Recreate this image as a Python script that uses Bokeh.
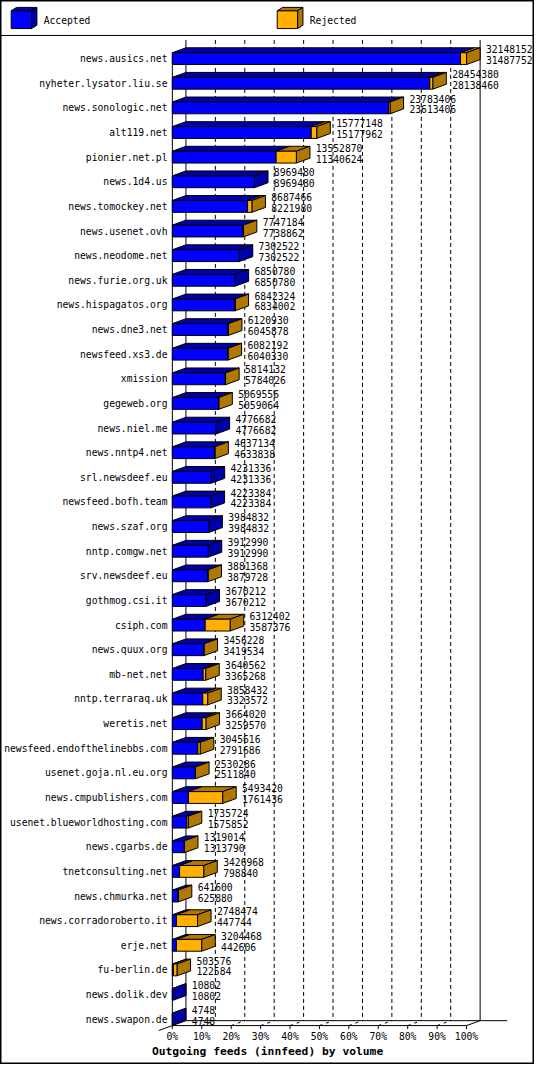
from bokeh.plotting import figure
from bokeh.models import Range1d
from bokeh.embed import file_html
from bokeh.resources import INLINE
from bokeh.core.properties import value

# ---------------- data ----------------
hosts = [
    "news.ausics.net", "nyheter.lysator.liu.se", "news.sonologic.net", "alt119.net",
    "pionier.net.pl", "news.1d4.us", "news.tomockey.net", "news.usenet.ovh",
    "news.neodome.net", "news.furie.org.uk", "news.hispagatos.org", "news.dne3.net",
    "newsfeed.xs3.de", "xmission", "gegeweb.org", "news.niel.me",
    "news.nntp4.net", "srl.newsdeef.eu", "newsfeed.bofh.team", "news.szaf.org",
    "nntp.comgw.net", "srv.newsdeef.eu", "gothmog.csi.it", "csiph.com",
    "news.quux.org", "mb-net.net", "nntp.terraraq.uk", "weretis.net",
    "newsfeed.endofthelinebbs.com", "usenet.goja.nl.eu.org", "news.cmpublishers.com",
    "usenet.blueworldhosting.com", "news.cgarbs.de", "tnetconsulting.net",
    "news.chmurka.net", "news.corradoroberto.it", "erje.net", "fu-berlin.de",
    "news.dolik.dev", "news.swapon.de",
]
offered = [
    32148152, 28454380, 23783406, 15777148, 13552870, 8969480, 8687466, 7747184,
    7302522, 6850780, 6842324, 6120930, 6082192, 5814132, 5069556, 4776682,
    4637134, 4231336, 4223384, 3984832, 3912990, 3881368, 3670212, 6312402,
    3456228, 3640562, 3858432, 3664020, 3045616, 2530286, 5493420, 1735724,
    1319014, 3426968, 641600, 2748474, 3204468, 503576, 10802, 4748,
]
accepted = [
    31487752, 28138460, 23613406, 15177962, 11340624, 8969480, 8221980, 7738862,
    7302522, 6850780, 6834002, 6045878, 6040330, 5784026, 5059064, 4776682,
    4633838, 4231336, 4223384, 3984832, 3912990, 3879728, 3670212, 3587376,
    3419534, 3365268, 3323572, 3259570, 2791686, 2511840, 1761436, 1575852,
    1313790, 798840, 625880, 447744, 442606, 122584, 10802, 4748,
]
pct_ticks = [0, 10, 20, 30, 40, 50, 60, 70, 80, 90, 100]
pct_labels = ["0%", "10%", "20%", "30%", "40%", "50%", "60%", "70%", "80%", "90%", "100%"]
series_names = ["Accepted", "Rejected"]
title_text = "Outgoing feeds (innfeed) by volume"

# ---------------- style / layout ----------------
BLUE, BLUE_D = "#0000FF", "#0000A8"
ORANGE, ORANGE_D = "#FFB000", "#B07800"
FONT = value("DejaVu Sans Mono")
FS = "9.7px"

W, H = 534, 1064
REF_W, REF_H = 550, 1080
X0, X100 = 177, 480          # reference px of 0% / 100%
Y0, ROW = 59, 25             # reference px of first row centre, row pitch
DXP, DYP = 14, 5             # 3D depth in px
HALF = 6                     # half height of bar front face

vmax = max(offered)
U = vmax / (X100 - X0)


def X(px):
    return (px - X0) * U


def Y(py):
    return (py - Y0) / ROW


DX = DXP * U
DY = -DYP / ROW
HH = HALF / ROW

p = figure(width=W, height=H,
           x_range=Range1d(X(0), X(REF_W)), y_range=Range1d(Y(REF_H), Y(0)),
           x_axis_type=None, y_axis_type=None,
           output_backend="svg", toolbar_location=None, min_border=0)
p.grid.visible = False
p.outline_line_color = "black"
p.outline_line_width = 2
p.background_fill_color = "white"
p.border_fill_color = "white"

# ---------------- legend ----------------
p.segment(x0=[X(0)], y0=[Y(35.5)], x1=[X(550)], y1=[Y(35.5)], line_color="black", line_width=1)
for lx, front, dark, name in [(11, BLUE, BLUE_D, series_names[0]), (285, ORANGE, ORANGE_D, series_names[1])]:
    fx0, fx1, fy0, fy1 = X(lx), X(lx + 21), Y(10.5), Y(28.5)
    ddx, ddy = 5.5 * U, -3.5 / ROW
    p.patch([fx0, fx1, fx1 + ddx, fx0 + ddx], [fy0, fy0, fy0 + ddy, fy0 + ddy],
            fill_color=dark, line_color="black", line_width=1)
    p.patch([fx1, fx1 + ddx, fx1 + ddx, fx1], [fy0, fy0 + ddy, fy1 + ddy, fy1],
            fill_color=dark, line_color="black", line_width=1)
    p.quad(left=[fx0], right=[fx1], top=[fy0], bottom=[fy1],
           fill_color=front, line_color="black", line_width=1)
    p.text(x=[X(lx + 33.5)], y=[Y(20)], text=[name], text_align="left", text_baseline="middle",
           text_font=FONT, text_font_size=FS, text_color="black")

# ---------------- back wall / floor ----------------
n = len(hosts)
y_top = Y(40)
y_back = Y(1035.5)
y_front = Y(1040.5)
grid_x = [vmax * t / 100 + DX for t in pct_ticks[1:-1]]
p.segment(x0=grid_x, y0=[y_top] * len(grid_x), x1=grid_x, y1=[y_back] * len(grid_x),
          line_color="black", line_width=1, line_dash="4 3")
p.segment(x0=[DX, vmax + DX], y0=[y_top, y_top], x1=[DX, vmax + DX], y1=[y_back, y_back],
          line_color="black", line_width=1)
# front axis
p.segment(x0=[0], y0=[Y(53)], x1=[0], y1=[y_front], line_color="black", line_width=1)
# floor
p.segment(x0=[0, vmax, DX, X(163)], y0=[y_front, y_front, y_back, Y(1045.5)],
          x1=[vmax, vmax + DX, X(522), DX], y1=[y_front, y_back, y_back, y_back],
          line_color="black", line_width=1)
tick_x = [vmax * t / 100 for t in pct_ticks]
p.segment(x0=tick_x, y0=[y_front] * len(tick_x), x1=tick_x, y1=[Y(1044)] * len(tick_x),
          line_color="black", line_width=1)
p.segment(x0=tick_x[1:-1], y0=[y_front] * (len(tick_x) - 2),
          x1=[t + DX for t in tick_x[1:-1]], y1=[y_back] * (len(tick_x) - 2),
          line_color="black", line_width=1, line_dash="3 4")

# ---------------- bars ----------------
rows = list(range(n))
top_b_xs, top_b_ys, top_o_xs, top_o_ys = [], [], [], []
side_xs, side_ys, side_c = [], [], []
for i, (a, t) in enumerate(zip(accepted, offered)):
    yt, yb = i - HH, i + HH
    top_b_xs.append([0, a, a + DX, DX])
    top_b_ys.append([yt, yt, yt + DY, yt + DY])
    if t > a:
        top_o_xs.append([a, t, t + DX, a + DX])
        top_o_ys.append([yt, yt, yt + DY, yt + DY])
    side_xs.append([t, t + DX, t + DX, t])
    side_ys.append([yt, yt + DY, yb + DY, yb])
    side_c.append(ORANGE_D if t > a else BLUE_D)

p.patches(top_b_xs, top_b_ys, fill_color=BLUE_D, line_color="black", line_width=1)
p.patches(top_o_xs, top_o_ys, fill_color=ORANGE_D, line_color="black", line_width=1)
p.patches(side_xs, side_ys, fill_color=side_c, line_color="black", line_width=1)
p.quad(left=[0] * n, right=accepted, top=[i - HH for i in rows], bottom=[i + HH for i in rows],
       fill_color=BLUE, line_color="black", line_width=1)
rej_idx = [i for i in rows if offered[i] > accepted[i]]
p.quad(left=[accepted[i] for i in rej_idx], right=[offered[i] for i in rej_idx],
       top=[i - HH for i in rej_idx], bottom=[i + HH for i in rej_idx],
       fill_color=ORANGE, line_color="black", line_width=1)

# ---------------- texts ----------------
p.text(x=[X(172)] * n, y=rows, text=hosts, text_align="right", text_baseline="middle",
       text_font=FONT, text_font_size=FS, text_color="black")
vx = [t + DX + 6 * U for t in offered]
p.text(x=vx, y=[i - 9.5 / ROW for i in rows], text=[str(v) for v in offered],
       text_align="left", text_baseline="middle", text_font=FONT, text_font_size=FS,
       text_color="black")
p.text(x=vx, y=[i + 1.5 / ROW for i in rows], text=[str(v) for v in accepted],
       text_align="left", text_baseline="middle", text_font=FONT, text_font_size=FS,
       text_color="black")
p.text(x=tick_x, y=[Y(1052)] * len(tick_x), text=pct_labels, text_align="center",
       text_baseline="middle", text_font=FONT, text_font_size=FS, text_color="black")
p.text(x=[X(156)], y=[Y(1067)], text=[title_text], text_align="left", text_baseline="middle",
       text_font=FONT, text_font_size="11.3px", text_font_style="bold", text_color="black")

open("out.html", "w").write(file_html(p, INLINE))
